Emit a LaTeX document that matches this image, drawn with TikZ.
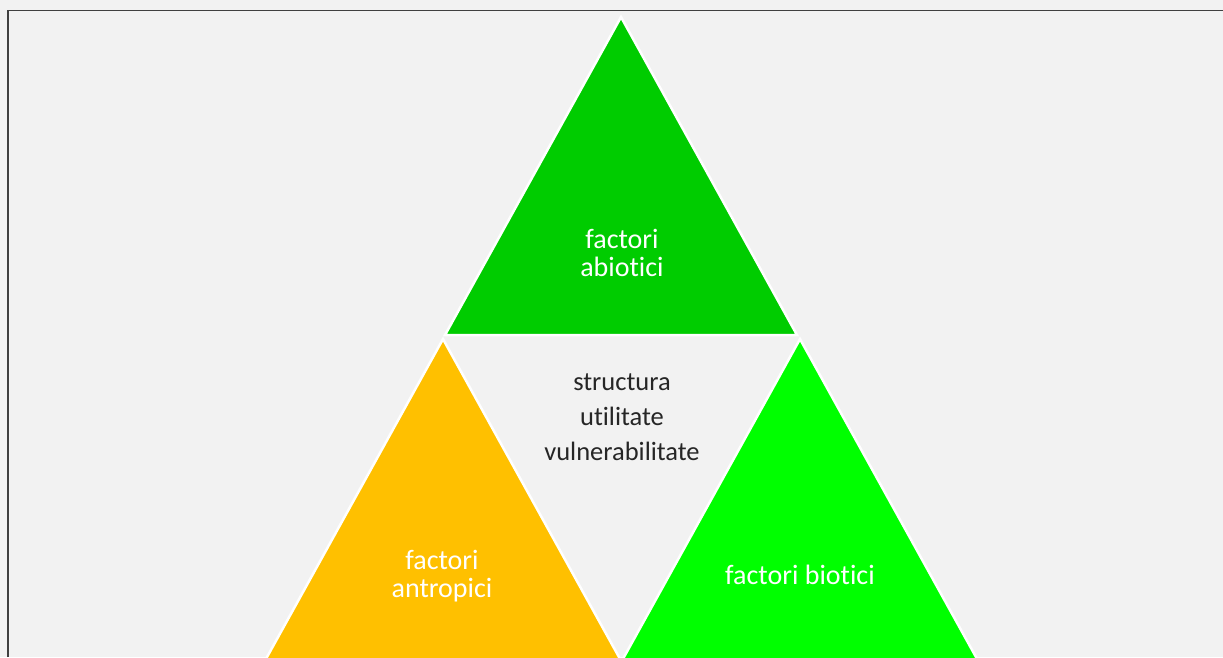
\documentclass[tikz,border=0pt]{standalone}
\usepackage{fontspec}
\setmainfont{Carlito}[Ligatures={NoCommon, NoContextual}]
\definecolor{bggray}{RGB}{242, 242, 242}
\definecolor{framegray}{RGB}{64, 64, 64}
\definecolor{abioticgreen}{RGB}{0, 204, 0}
\definecolor{antropicorange}{RGB}{255, 192, 0}
\definecolor{bioticgreen}{RGB}{0, 255, 0}
\definecolor{textdark}{RGB}{38, 38, 38}
\begin{document}
\begin{tikzpicture}[
        x=1pt, y=-1pt,
        factor/.style={draw=white, line width=2.5pt, line join=miter},
        factortext/.style={text=white, font=\fontsize{28}{27.5}\selectfont, align=center, inner sep=0pt},
        coretext/.style={text=textdark, font=\fontsize{26.5}{35}\selectfont, align=center, inner sep=0pt}
    ]
    
    % Background and frame
    \useasboundingbox (0, 0) rectangle (1223, 657);
    \clip (0, 0) rectangle (1223, 657);
    \fill[bggray] (0, 0) rectangle (1223, 657);
    \coordinate (framebl) at (8, 657);
    \coordinate (frametl) at (8, 10.5);
    \coordinate (frametr) at (1223, 10.5);
    \draw[framegray, line width=1.5pt] (framebl) -- (frametl) -- (frametr);
    
    % Triangles (the lower two run past the bottom edge)
    \coordinate (abiotictop) at (621, 17);
    \coordinate (antropictop) at (443, 339);
    \coordinate (biotictop) at (800, 339);
    \draw[factor, fill=abioticgreen] (abiotictop) -- ++(-176, 318) -- ++(352, 0) -- cycle;
    \draw[factor, fill=antropicorange] (antropictop) -- ++(-179.3, 324) -- ++(358.6, 0) -- cycle;
    \draw[factor, fill=bioticgreen] (biotictop) -- ++(-179.3, 324) -- ++(358.6, 0) -- cycle;
    
    % Labels
    \node[factortext] (abiotic) at (622, 253) {factori\\abiotici};
    \node[factortext] (antropic) at (442, 576) {factori\\antropici};
    \node[factortext] (biotic) at (800, 575) {factori biotici};
    \node[coretext] (core) at (622, 417) {structura\\utilitate\\vulnerabilitate};
    
\end{tikzpicture}
\end{document}
